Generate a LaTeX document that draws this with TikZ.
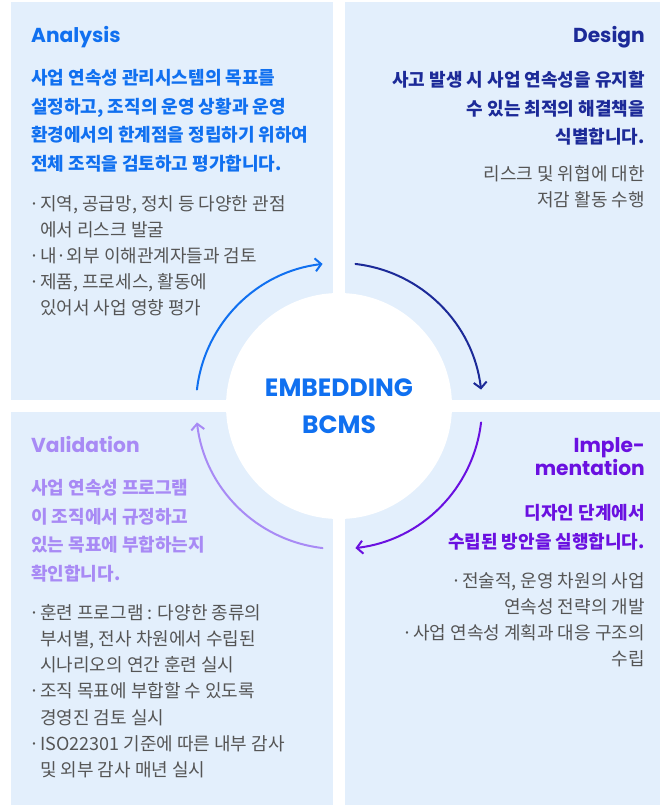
\documentclass[tikz,border=0pt]{standalone}
\usepackage{fontspec}
\setmainfont{Noto Sans CJK KR}
\newfontfamily\headfont{Poppins}
\usetikzlibrary{arrows.meta}
\definecolor{panelbg}{RGB}{227,239,252}
\definecolor{cblue}{RGB}{16,112,240}
\definecolor{cnavy}{RGB}{28,42,152}
\definecolor{cpurple}{RGB}{106,16,224}
\definecolor{clav}{RGB}{168,138,245}
\definecolor{cgray}{RGB}{85,85,85}
\newcommand\mybul{\makebox[9pt][l]{\hspace*{-2pt}·}}
\newcommand\myind{\hspace*{9pt}}
\begin{document}
\begin{tikzpicture}[x=1pt,y=-1pt,
  panel/.style={fill=panelbg,draw=none},
  head/.style={font=\headfont\bfseries\fontsize{20.2}{23}\selectfont,inner sep=0},
  lead/.style={font=\bfseries\fontsize{18}{28.7}\selectfont,inner sep=0},
  note/.style={font=\fontsize{18}{26.2}\selectfont,text=cgray,inner sep=0},
  cyc/.style={line width=2pt,line cap=round,-{Straight Barb[length=6pt,width=13pt,line width=2pt]}}
]
\fill[white] (0,0) rectangle (660,805);
\useasboundingbox (0,0) rectangle (660,805);
% panels
\path[panel] (11,2) rectangle (333,400);
\path[panel] (345,2) rectangle (660,400);
\path[panel] (11,412) rectangle (333,805);
\path[panel] (345,412) rectangle (660,805);
% hub
\node[circle,fill=white,minimum size=226pt,inner sep=0,align=center,
  font=\headfont\bfseries\fontsize{25}{37}\selectfont,text=cblue] (hub) at (339,406) {EMBEDDING\\BCMS};
% cycle arrows
\draw[cyc,cblue]   ([shift={(186.6:143)}]hub.center) arc[start angle=186.6,end angle=263.4,radius=143];
\draw[cyc,cnavy]   ([shift={(276.6:143)}]hub.center) arc[start angle=276.6,end angle=353.4,radius=143];
\draw[cyc,cpurple] ([shift={(6.6:143)}]hub.center) arc[start angle=6.6,end angle=83.4,radius=143];
\draw[cyc,clav]    ([shift={(96.6:143)}]hub.center) arc[start angle=96.6,end angle=173.4,radius=143];
% Analysis
\node[head,text=cblue,anchor=base west] (anhead) at (31,43) {Analysis};
\node[lead,text=cblue,anchor=north west,align=left] (anlead) at (31,69)
 {사업 연속성 관리시스템의 목표를\\설정하고, 조직의 운영 상황과 운영\\환경에서의 한계점을 정립하기 위하여\\전체 조직을 검토하고 평가합니다.};
\node[note,anchor=north west,align=left] (annote) at (31,195)
 {\mybul 지역, 공급망, 정치 등 다양한 관점\\\myind 에서 리스크 발굴\\\mybul 내·외부 이해관계자들과 검토\\\mybul 제품, 프로세스, 활동에\\\myind 있어서 사업 영향 평가};
% Design
\node[head,text=cnavy,anchor=base east] (dehead) at (645,43) {Design};
\node[lead,text=cnavy,anchor=north east,align=right] (delead) at (645,71)
 {사고 발생 시 사업 연속성을 유지할\\수 있는 최적의 해결책을\\식별합니다.};
\node[note,anchor=north east,align=right] (denote) at (645,165)
 {리스크 및 위협에 대한\\저감 활동 수행};
% Validation
\node[head,text=clav,anchor=base west] (vahead) at (31,452) {Validation};
\node[lead,text=clav,anchor=north west,align=left] (valead) at (31,479)
 {사업 연속성 프로그램\\이 조직에서 규정하고\\있는 목표에 부합하는지\\확인합니다.};
\node[note,anchor=north west,align=left] (vanote) at (31,604)
 {\mybul 훈련 프로그램 : 다양한 종류의\\\myind 부서별, 전사 차원에서 수립된\\\myind 시나리오의 연간 훈련 실시\\\mybul 조직 목표에 부합할 수 있도록\\\myind 경영진 검토 실시\\\mybul ISO22301 기준에 따른 내부 감사\\\myind 및 외부 감사 매년 실시};
% Implementation
\node[head,text=cpurple,anchor=base east] (imhead) at (645,452) {Imple-};
\node[head,text=cpurple,anchor=base east] (imhead2) at (645,475) {mentation};
\node[lead,text=cpurple,anchor=north east,align=right] (imlead) at (645,504)
 {디자인 단계에서\\수립된 방안을 실행합니다.};
\node[note,anchor=north east,align=right] (imnote) at (645,572)
 {\mybul 전술적, 운영 차원의 사업\\연속성 전략의 개발\\\mybul 사업 연속성 계획과 대응 구조의\\수립};
\end{tikzpicture}
\end{document}
